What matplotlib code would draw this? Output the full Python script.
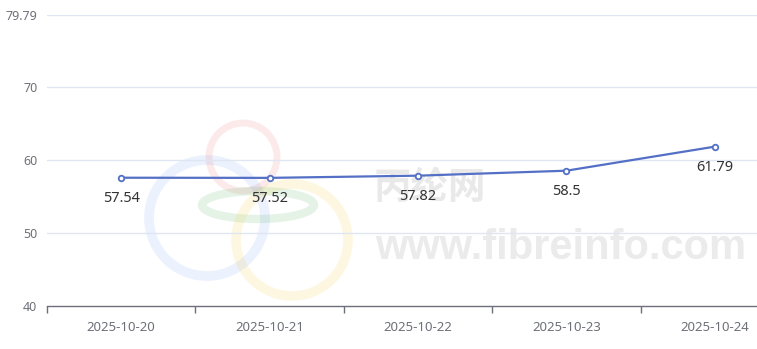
import matplotlib.pyplot as plt
from matplotlib.patches import Circle, Ellipse

# chart data
dates = ['2025-10-20', '2025-10-21', '2025-10-22', '2025-10-23', '2025-10-24']
prices = [57.54, 57.52, 57.82, 58.5, 61.79]
y_ticks = [40, 50, 60, 70, 79.79]
y_tick_labels = ['40', '50', '60', '70', '79.79']

W, H = 757, 349
fig = plt.figure(figsize=(W / 100, H / 100), dpi=100)
# plot area runs past the right edge of the image, like the original
ax = fig.add_axes([47 / W, 43 / H, 742 / W, 291 / H])

n = len(dates)
xs = list(range(n))
ax.set_xlim(-0.5, n - 0.5)
ax.set_ylim(40, 79.79)

# faint watermark (logo rings + site text)
wm = fig.add_axes([0, 0, 1, 1], zorder=0)
wm.set_xlim(0, W)
wm.set_ylim(H, 0)
wm.axis('off')
wm.add_patch(Circle((207, 218), 58, fill=False, lw=7, ec='#3b7ff0', alpha=0.10))
wm.add_patch(Circle((243, 157), 34, fill=False, lw=5, ec='#e53935', alpha=0.10))
wm.add_patch(Ellipse((258, 205), 112, 28, fill=False, lw=6, ec='#2e9e3e', alpha=0.12))
wm.add_patch(Circle((292, 240), 56, fill=False, lw=7, ec='#f5c518', alpha=0.12))
wm.text(430, 187, '丙纶网', fontsize=27, fontweight='bold', color='#e9e9e9',
        ha='center', va='center', family=['Noto Sans CJK SC', 'DejaVu Sans'])
wm.text(561, 248, 'www.fibreinfo.com', fontsize=30, fontweight='bold', color='#ebebeb',
        ha='center', va='center', family='Liberation Sans')

ax.set_zorder(1)
ax.patch.set_visible(False)

# grid
for y in y_ticks[1:]:
    ax.axhline(y, color='#e0e6f1', lw=1, zorder=1)

ax.plot(xs, prices, color='#5470c6', lw=1.6, marker='o', markersize=4,
        markerfacecolor='white', markeredgecolor='#5470c6', markeredgewidth=1.3, zorder=3)

for x, v in zip(xs, prices):
    ax.annotate(f'{v:g}', (x, v), xytext=(0, -15), textcoords='offset points',
                ha='center', va='center', fontsize=10.5, color='#333333',
                family='Noto Sans')

for s in ['top', 'right', 'left']:
    ax.spines[s].set_visible(False)
ax.spines['bottom'].set_color('#6e7079')
ax.spines['bottom'].set_linewidth(1)

ax.set_yticks(y_ticks)
ax.set_yticklabels(y_tick_labels)
ax.tick_params(axis='y', length=0, pad=7, labelsize=9, labelcolor='#6e7079')

ax.set_xticks(xs)
ax.set_xticklabels(dates)
ax.tick_params(axis='x', length=0, pad=11, labelsize=9.5, labelcolor='#6e7079')
ax.set_xticks([i - 0.5 for i in range(n + 1)], minor=True)
ax.tick_params(axis='x', which='minor', length=5, color='#6e7079', width=1)

for lbl in ax.get_xticklabels() + ax.get_yticklabels():
    lbl.set_family('Noto Sans')

fig.savefig('out.png', dpi=100)
